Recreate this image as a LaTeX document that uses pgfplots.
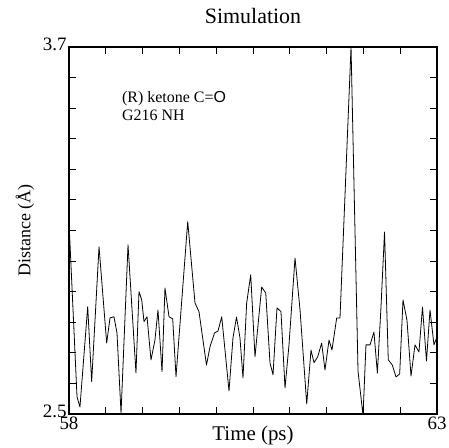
\documentclass[border=0pt]{standalone}
\usepackage{fontspec}
\setmainfont{Liberation Serif}
\newfontfamily\sansO{Liberation Sans}
\usepackage{pgfplots}
\pgfplotsset{compat=1.18}
\begin{document}
\begin{tikzpicture}
\begin{axis}[
  name=ax,
  scale only axis,
  width=368bp, height=367bp,
  xmin=58, xmax=63, ymin=2.5, ymax=3.7,
  xtick={58,58.5,59,59.5,60,60.5,61,61.5,62,62.5,63},
  xticklabels={58,,,,,,,,,,63},
  ytick={2.5,2.6,2.7,2.8,2.9,3.0,3.1,3.2,3.3,3.4,3.5,3.6,3.7},
  yticklabels={2.5,,,,,,,,,,,,3.7},
  tick align=inside,
  major tick length=7bp,
  tick style={black, line width=0.9pt},
  axis line style={black, line width=1.1pt},
  ticklabel style={font=\fontsize{19}{22}\selectfont},
  xticklabel style={yshift=1pt},
  yticklabel style={xshift=1pt, yshift=3pt},
  title={Simulation},
  title style={font=\fontsize{22}{26}\selectfont, at={(axis description cs:0.5,1.068)}, anchor=center},
  xlabel={Time (ps)},
  xlabel style={font=\fontsize{21}{24}\selectfont, at={(axis description cs:0.5,-0.058)}, anchor=center},
  ylabel={Distance (Å)},
  ylabel style={font=\fontsize{18}{21}\selectfont, at={(axis description cs:-0.12,0.5)}, anchor=center},
  clip=true,
]
\addplot[black, line width=0.8pt, line join=round] coordinates {
(58.000,3.128) (58.109,2.556) (58.149,2.523) (58.254,2.851) (58.308,2.606)
(58.408,3.047) (58.512,2.732) (58.557,2.814) (58.611,2.818) (58.652,2.765)
(58.707,2.503) (58.802,3.053) (58.910,2.634) (58.951,2.900) (58.988,2.873)
(59.019,2.802) (59.060,2.818) (59.114,2.677) (59.168,2.742) (59.209,2.840)
(59.264,2.638) (59.304,2.912) (59.359,2.818) (59.409,2.811) (59.454,2.622)
(59.613,3.129) (59.712,2.863) (59.766,2.835) (59.868,2.660) (59.916,2.720)
(59.977,2.765) (60.024,2.771) (60.075,2.818) (60.174,2.575) (60.228,2.749)
(60.276,2.817) (60.323,2.749) (60.364,2.618) (60.414,2.863) (60.469,2.955)
(60.527,2.687) (60.618,2.915) (60.673,2.896) (60.731,2.667) (60.772,2.628)
(60.826,2.847) (60.880,2.835) (60.935,2.585) (60.989,2.726) (61.071,3.010)
(61.139,2.840) (61.230,2.533) (61.288,2.709) (61.329,2.668) (61.379,2.687)
(61.433,2.732) (61.478,2.644) (61.533,2.742) (61.573,2.709) (61.637,2.814)
(61.682,2.814) (61.832,3.700) (61.927,2.640) (61.995,2.495) (62.035,2.726)
(62.090,2.726) (62.143,2.768) (62.190,2.634) (62.239,2.850) (62.287,3.095)
(62.338,2.677) (62.393,2.660) (62.443,2.621) (62.493,2.631) (62.538,2.873)
(62.592,2.807) (62.647,2.624) (62.701,2.726) (62.755,2.703) (62.803,2.850)
(62.857,2.673) (62.905,2.840) (62.959,2.726) (63.000,2.752)
};
\node[anchor=north west, align=left, inner sep=0pt, font=\fontsize{16}{18}\selectfont] at (axis cs:58.72,3.555)
  {(R) ketone C={\sansO O}\\G216 NH};
\end{axis}
\pgfresetboundingbox
\path ([shift={(-69bp,-34bp)}]ax.south west) rectangle ([shift={(12bp,47bp)}]ax.north east);
\end{tikzpicture}
\end{document}
